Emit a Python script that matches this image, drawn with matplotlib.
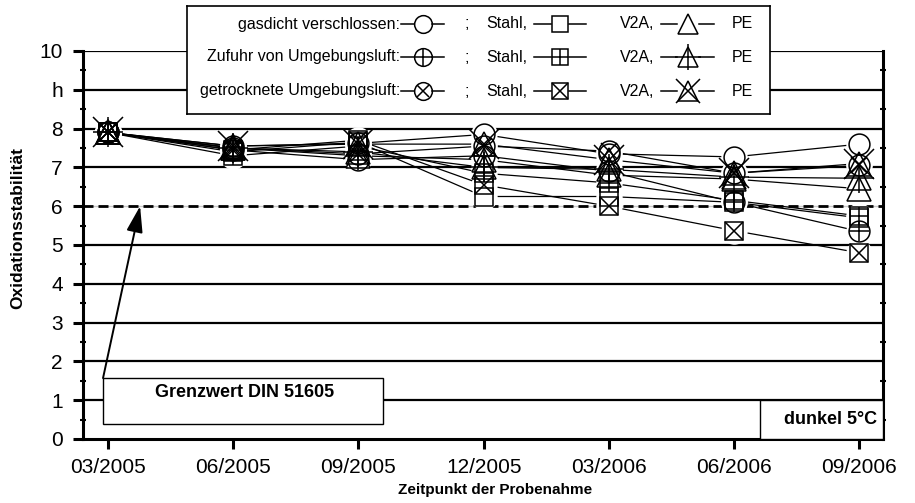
import matplotlib
matplotlib.use('Agg')
import matplotlib.pyplot as plt
from matplotlib.patches import Rectangle

# Probenahme-Zeitpunkte und Achsenbeschriftung
dates = ['03/2005', '06/2005', '09/2005', '12/2005', '03/2006', '06/2006', '09/2006']
ytick_labels = ['0', '1', '2', '3', '4', '5', '6', '7', '8', 'h', '10']
grenzwert = 6

# gasdicht verschlossen
kreis_dicht = [7.9, 7.55, 7.62, 7.85, 7.35, 7.27, 7.6]
stahl_dicht = [7.9, 7.4, 7.65, 6.25, 6.25, 6.1, 5.7]
v2a_dicht = [7.9, 7.5, 7.3, 7.2, 6.8, 6.7, 6.45]
# Zufuhr von Umgebungsluft
kreis_luft = [7.9, 7.45, 7.2, 7.3, 6.9, 6.1, 5.35]
stahl_luft = [7.9, 7.3, 7.55, 6.85, 6.6, 6.15, 5.75]
v2a_luft = [7.9, 7.5, 7.4, 7.0, 6.95, 6.75, 6.72]
# getrocknete Umgebungsluft
kreis_trocken = [7.9, 7.5, 7.35, 7.55, 7.42, 6.85, 7.05]
stahl_trocken = [7.9, 7.45, 7.7, 6.55, 6.0, 5.37, 4.8]
v2a_trocken = [7.9, 7.55, 7.6, 7.6, 7.2, 6.85, 7.1]

legend_rows = ['gasdicht verschlossen:', 'Zufuhr von Umgebungsluft:', 'getrocknete Umgebungsluft:']

plt.rcParams['font.family'] = ['Liberation Sans', 'DejaVu Sans']

# marker shape and size
STYLES = {
  'kreis': ('o', 15),
  'stahl': ('s', 13),
  'v2a': ('^', 17),
}
OVERLAY = {
  ('kreis', '+'): 15, ('kreis', 'x'): 11,
  ('stahl', '+'): 13, ('stahl', 'x'): 13,
  ('v2a', '+'): 22, ('v2a', 'x'): 21,
}


def draw_series(ax, x, y, kind, overlay):
  marker, ms = STYLES[kind]
  ax.plot(x, y, color='black', lw=0.9, zorder=3)
  # white spot so the connecting lines stop short of the symbols
  ax.plot(x, y, ls='none', marker='o', ms=19, mfc='white', mec='none', zorder=4)
  ax.plot(x, y, ls='none', marker=marker, ms=ms, mfc='none', mec='black', mew=1.1, zorder=5)
  if overlay:
    ax.plot(x, y, ls='none', marker=overlay, ms=OVERLAY[(kind, overlay)],
            mec='black', mew=1.1, zorder=5)


def legend_handle(lax, x0, x1, y, kind, overlay, gap):
  marker, ms = STYLES[kind]
  c = (x0 + x1) / 2
  lax.plot([x0, c - gap], [y, y], color='black', lw=1.1)
  lax.plot([c + gap, x1], [y, y], color='black', lw=1.1)
  lax.plot([c], [y], ls='none', marker=marker, ms=ms * 0.85, mfc='none', mec='black', mew=1.1)
  if overlay:
    lax.plot([c], [y], ls='none', marker=overlay, ms=OVERLAY[(kind, overlay)] * 0.85,
             mec='black', mew=1.1)


def plot_data():
  fig = plt.figure(figsize=(9.15, 5.03), dpi=100)
  ax = fig.add_axes([83 / 915, 1 - 439 / 503, 800 / 915, 388 / 503])

  x = list(range(len(dates)))

  groups = [
    (kreis_dicht, 'kreis', None), (stahl_dicht, 'stahl', None), (v2a_dicht, 'v2a', None),
    (kreis_luft, 'kreis', '+'), (stahl_luft, 'stahl', '+'), (v2a_luft, 'v2a', '+'),
    (kreis_trocken, 'kreis', 'x'), (stahl_trocken, 'stahl', 'x'), (v2a_trocken, 'v2a', 'x'),
  ]
  for vals, kind, overlay in groups:
    draw_series(ax, x, vals, kind, overlay)

  # horizontal lines
  for v in range(1, 11):
    if v == grenzwert:
      continue
    ax.axhline(v, color='black', lw=1.6, zorder=2)
  ax.axhline(grenzwert, color='#c8c8c8', lw=1.0, zorder=2)
  ax.axhline(grenzwert, color='black', lw=2.0, ls=(0, (3.6, 1.8)), zorder=2)

  ax.set_xlim(-0.2, 6.19)
  ax.set_ylim(0, 10)
  ax.set_xticks(x)
  ax.set_xticklabels(dates)
  ax.set_yticks(range(11))
  ax.set_yticklabels(ytick_labels)
  ax.set_yticks([v + 0.5 for v in range(10)], minor=True)
  ax.tick_params(axis='both', which='major', labelsize=15, width=2.2, length=7.5, color='black')
  ax.tick_params(axis='x', pad=6)
  ax.tick_params(axis='y', pad=7)
  ax.tick_params(axis='y', which='minor', direction='inout', length=4, width=1.5,
                 left=True, right=True)
  ax.spines['top'].set_visible(False)
  for s in ['left', 'right', 'bottom']:
    ax.spines[s].set_linewidth(2.2)

  ax.set_xlabel('Zeitpunkt der Probenahme', fontweight='bold', fontsize=11)
  ax.set_ylabel('Oxidationsstabilität', fontweight='bold', fontsize=12.5)
  ax.xaxis.set_label_coords(0.515, -0.113)
  ax.yaxis.set_label_coords(-0.072, 0.545)

  # Grenzwert annotation
  ax.add_patch(Rectangle((-0.04, 0.39), 2.236, 1.18, fc='white', ec='black', lw=1.0, zorder=6))
  ax.text(1.09, 1.19, 'Grenzwert DIN 51605', fontweight='bold', fontsize=13,
          ha='center', va='center', zorder=7)
  ax.annotate('', xy=(0.256, 6.0), xytext=(-0.04, 1.57),
              arrowprops=dict(arrowstyle='-|>,head_length=0.8,head_width=0.25',
                              mutation_scale=20, lw=1.4, color='black',
                              shrinkA=0, shrinkB=0), zorder=7)

  ax.add_patch(Rectangle((5.21, 0), 0.98, 1.0, fc='white', ec='black', lw=1.0, zorder=6))
  ax.text(5.77, 0.49, 'dunkel 5°C', fontweight='bold', fontsize=13,
          ha='center', va='center', zorder=7)

  # legend box
  lax = fig.add_axes([187 / 915, 1 - 114 / 503, 583 / 915, 108 / 503], zorder=10)
  lax.set_xlim(187, 770)
  lax.set_ylim(114, 6)
  lax.set_xticks([])
  lax.set_yticks([])
  for s in lax.spines.values():
    s.set_linewidth(1.2)
  row_y = [24, 57, 91]
  overlays = [None, '+', 'x']
  fs = 11.5
  for label, ry, ov in zip(legend_rows, row_y, overlays):
    lax.text(400, ry, label, fontsize=fs, ha='right', va='center')
    legend_handle(lax, 401, 444, ry, 'kreis', ov, 9)
    lax.text(467, ry, ';', fontsize=fs, ha='center', va='center')
    lax.text(486, ry, 'Stahl,', fontsize=fs, ha='left', va='center')
    legend_handle(lax, 534, 586, ry, 'stahl', ov, 9)
    lax.text(620, ry, 'V2A,', fontsize=fs, ha='left', va='center')
    legend_handle(lax, 661, 714, ry, 'v2a', ov, 11)
    lax.text(732, ry, 'PE', fontsize=fs, ha='left', va='center')

  fig.savefig('out.png', dpi=100)


def main():
  plot_data()


if __name__ == '__main__':
  main()
